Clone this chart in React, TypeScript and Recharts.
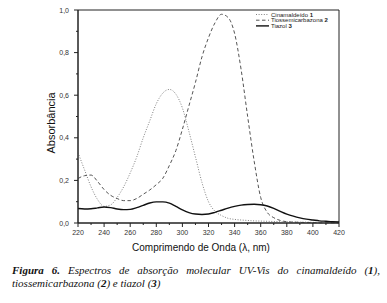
import { Label, Legend, Line, LineChart, ReferenceArea, XAxis, YAxis } from "recharts";

const wavelengths = [
	220, 225, 230, 235, 240, 245, 250, 255, 260, 265, 270, 275, 280, 285, 290, 295, 300, 305, 310, 315, 320, 325, 330,
	335, 340, 345, 350, 355, 360, 365, 370, 375, 380, 385, 390, 395, 400, 405, 410, 415, 420,
];

const cinamaldeido = [
	0.33, 0.25, 0.17, 0.11, 0.078, 0.085, 0.12, 0.17, 0.235, 0.31, 0.4, 0.48, 0.56, 0.61, 0.627, 0.605, 0.54, 0.43, 0.31,
	0.19, 0.1, 0.055, 0.035, 0.022, 0.017, 0.014, 0.012, 0.01, 0.009, 0.008, 0.007, 0.006, 0.005, 0.005, 0.004, 0.004,
	0.003, 0.003, 0.002, 0.002, 0.002,
];

const tiossemicarbazona = [
	0.209, 0.222, 0.225, 0.195, 0.157, 0.13, 0.115, 0.105, 0.105, 0.115, 0.135, 0.155, 0.18, 0.21, 0.27, 0.34, 0.44, 0.55,
	0.66, 0.78, 0.87, 0.94, 0.98, 0.965, 0.89, 0.72, 0.5, 0.29, 0.12, 0.05, 0.025, 0.012, 0.006, 0.004, 0.003, 0.002,
	0.002, 0.001, 0.001, 0.001, 0.001,
];

const tiazol = [
	0.068, 0.066, 0.067, 0.071, 0.075, 0.072, 0.066, 0.063, 0.064, 0.072, 0.083, 0.094, 0.099, 0.099, 0.093, 0.078, 0.062,
	0.049, 0.042, 0.04, 0.042, 0.05, 0.06, 0.07, 0.078, 0.084, 0.087, 0.088, 0.086, 0.08, 0.069, 0.055, 0.042, 0.032,
	0.024, 0.018, 0.014, 0.01, 0.008, 0.006, 0.005,
];

const xTicks = [220, 230, 240, 250, 260, 270, 280, 290, 300, 310, 320, 330, 340, 350, 360, 370, 380, 390, 400, 410, 420];
const yTicks = [0, 0.1, 0.2, 0.3, 0.4, 0.5, 0.6, 0.7, 0.8, 0.9, 1.0];

const seriesNames = ["Cinamaldeído", "Tiossemicarbazona", "Tiazol"];
const seriesNumbers = ["1", "2", "3"];

const data = wavelengths.map((nm, i) => ({
	nm,
	cin: cinamaldeido[i],
	tio: tiossemicarbazona[i],
	tia: tiazol[i],
}));

const lineStyles = [
	{ stroke: "#808080", dash: "1 1.6", width: 1 },
	{ stroke: "#555", dash: "3.5 2.5", width: 1 },
	{ stroke: "#111", dash: undefined, width: 1.4 },
];

const sans = "'Liberation Sans', Arial, sans-serif";
const serif = "'Liberation Serif', 'Times New Roman', serif";

const YTick = ({ x, y, payload }: any) => {
	const major = Math.round(payload.value * 10) % 2 === 0;
	const axisX = x + 10;
	return (
		<g>
			<line x1={axisX - (major ? 4 : 2)} x2={axisX} y1={y} y2={y} stroke="#222" />
			{major && (
				<text x={x + 1} y={y} textAnchor="end" dominantBaseline="central" fontSize={7} fill="#333" fontFamily={sans}>
					{payload.value.toFixed(1).replace(".", ",")}
				</text>
			)}
		</g>
	);
};

const XTick = ({ x, y, payload }: any) => {
	const major = payload.value % 20 === 0;
	const axisY = y - 7;
	return (
		<g>
			<line x1={x} x2={x} y1={axisY} y2={axisY + (major ? 4 : 2)} stroke="#222" />
			{major && (
				<text x={x} y={y} dy="0.71em" textAnchor="middle" fontSize={7} fill="#333" fontFamily={sans}>
					{payload.value}
				</text>
			)}
		</g>
	);
};

const LegendBox = () => (
	<svg width={84} height={22}>
		{seriesNames.map((name, i) => {
			const cy = 4.5 + i * 5.7;
			const s = lineStyles[i];
			return (
				<g key={name}>
					<line x1={2} x2={15} y1={cy} y2={cy} stroke={s.stroke} strokeDasharray={s.dash} strokeWidth={s.width} />
					<text x={17} y={cy} dominantBaseline="central" fontSize={6} fill="#222" fontFamily={sans}>
						{name} <tspan fontWeight="bold">{seriesNumbers[i]}</tspan>
					</text>
				</g>
			);
		})}
	</svg>
);

export default function App() {
	return (
		<div style={{ position: "absolute", left: 0, top: 0, width: 387, height: 303, background: "#fff" }}>
			<LineChart width={387} height={255} data={data} margin={{ top: 10, right: 48, bottom: 0, left: 0 }}>
				<XAxis
					dataKey="nm"
					type="number"
					domain={[220, 420]}
					ticks={xTicks}
					interval={0}
					height={32}
					tickSize={4}
					tickMargin={3}
					tickLine={false}
					stroke="#222"
					tick={<XTick />}
				>
					<Label
						content={() => (
							<text x={201} y={251} textAnchor="middle" fontSize={10} fill="#111" fontFamily={sans}>
								Comprimendo de Onda (λ, nm)
							</text>
						)}
					/>
				</XAxis>
				<YAxis
					type="number"
					domain={[0, 1]}
					ticks={yTicks}
					interval={0}
					width={78}
					tickSize={4}
					tickMargin={6}
					tickLine={false}
					stroke="#222"
					tick={<YTick />}
				>
					<Label
						content={() => (
							<text
								x={51}
								y={123}
								transform="rotate(-90 51 123)"
								textAnchor="middle"
								dominantBaseline="central"
								fontSize={11}
								fill="#111"
								fontFamily={sans}
							>
								Absorbância
							</text>
						)}
					/>
				</YAxis>
				<ReferenceArea x1={220} x2={420} y1={0} y2={1} fill="none" stroke="#222" strokeWidth={1} ifOverflow="visible" />
				<Legend
					layout="vertical"
					align="center"
					verticalAlign="middle"
					content={<LegendBox />}
					wrapperStyle={{ position: "absolute", left: 254, top: 10, width: 84 }}
				/>
				<Line
					dataKey="cin"
					name="Cinamaldeído 1"
					type="monotone"
					stroke={lineStyles[0].stroke}
					strokeDasharray={lineStyles[0].dash}
					strokeWidth={lineStyles[0].width}
					dot={false}
					activeDot={false}
					isAnimationActive={false}
				/>
				<Line
					dataKey="tio"
					name="Tiossemicarbazona 2"
					type="monotone"
					stroke={lineStyles[1].stroke}
					strokeDasharray={lineStyles[1].dash}
					strokeWidth={lineStyles[1].width}
					dot={false}
					activeDot={false}
					isAnimationActive={false}
				/>
				<Line
					dataKey="tia"
					name="Tiazol 3"
					type="monotone"
					stroke={lineStyles[2].stroke}
					strokeWidth={lineStyles[2].width}
					dot={false}
					activeDot={false}
					isAnimationActive={false}
				/>
			</LineChart>
			<div
				style={{
					position: "absolute",
					left: 12,
					top: 264,
					width: 368,
					fontFamily: serif,
					fontStyle: "italic",
					fontSize: 11,
					lineHeight: "13px",
					color: "#111",
				}}
			>
				<div style={{ textAlign: "justify", textAlignLast: "justify", whiteSpace: "nowrap" }}>
					<b>Figura 6.</b> Espectros de absorção molecular UV-Vis do cinamaldeído (<b>1</b>),
				</div>
				<div>
					tiossemicarbazona (<b>2</b>) e tiazol (<b>3</b>)
				</div>
			</div>
		</div>
	);
}
